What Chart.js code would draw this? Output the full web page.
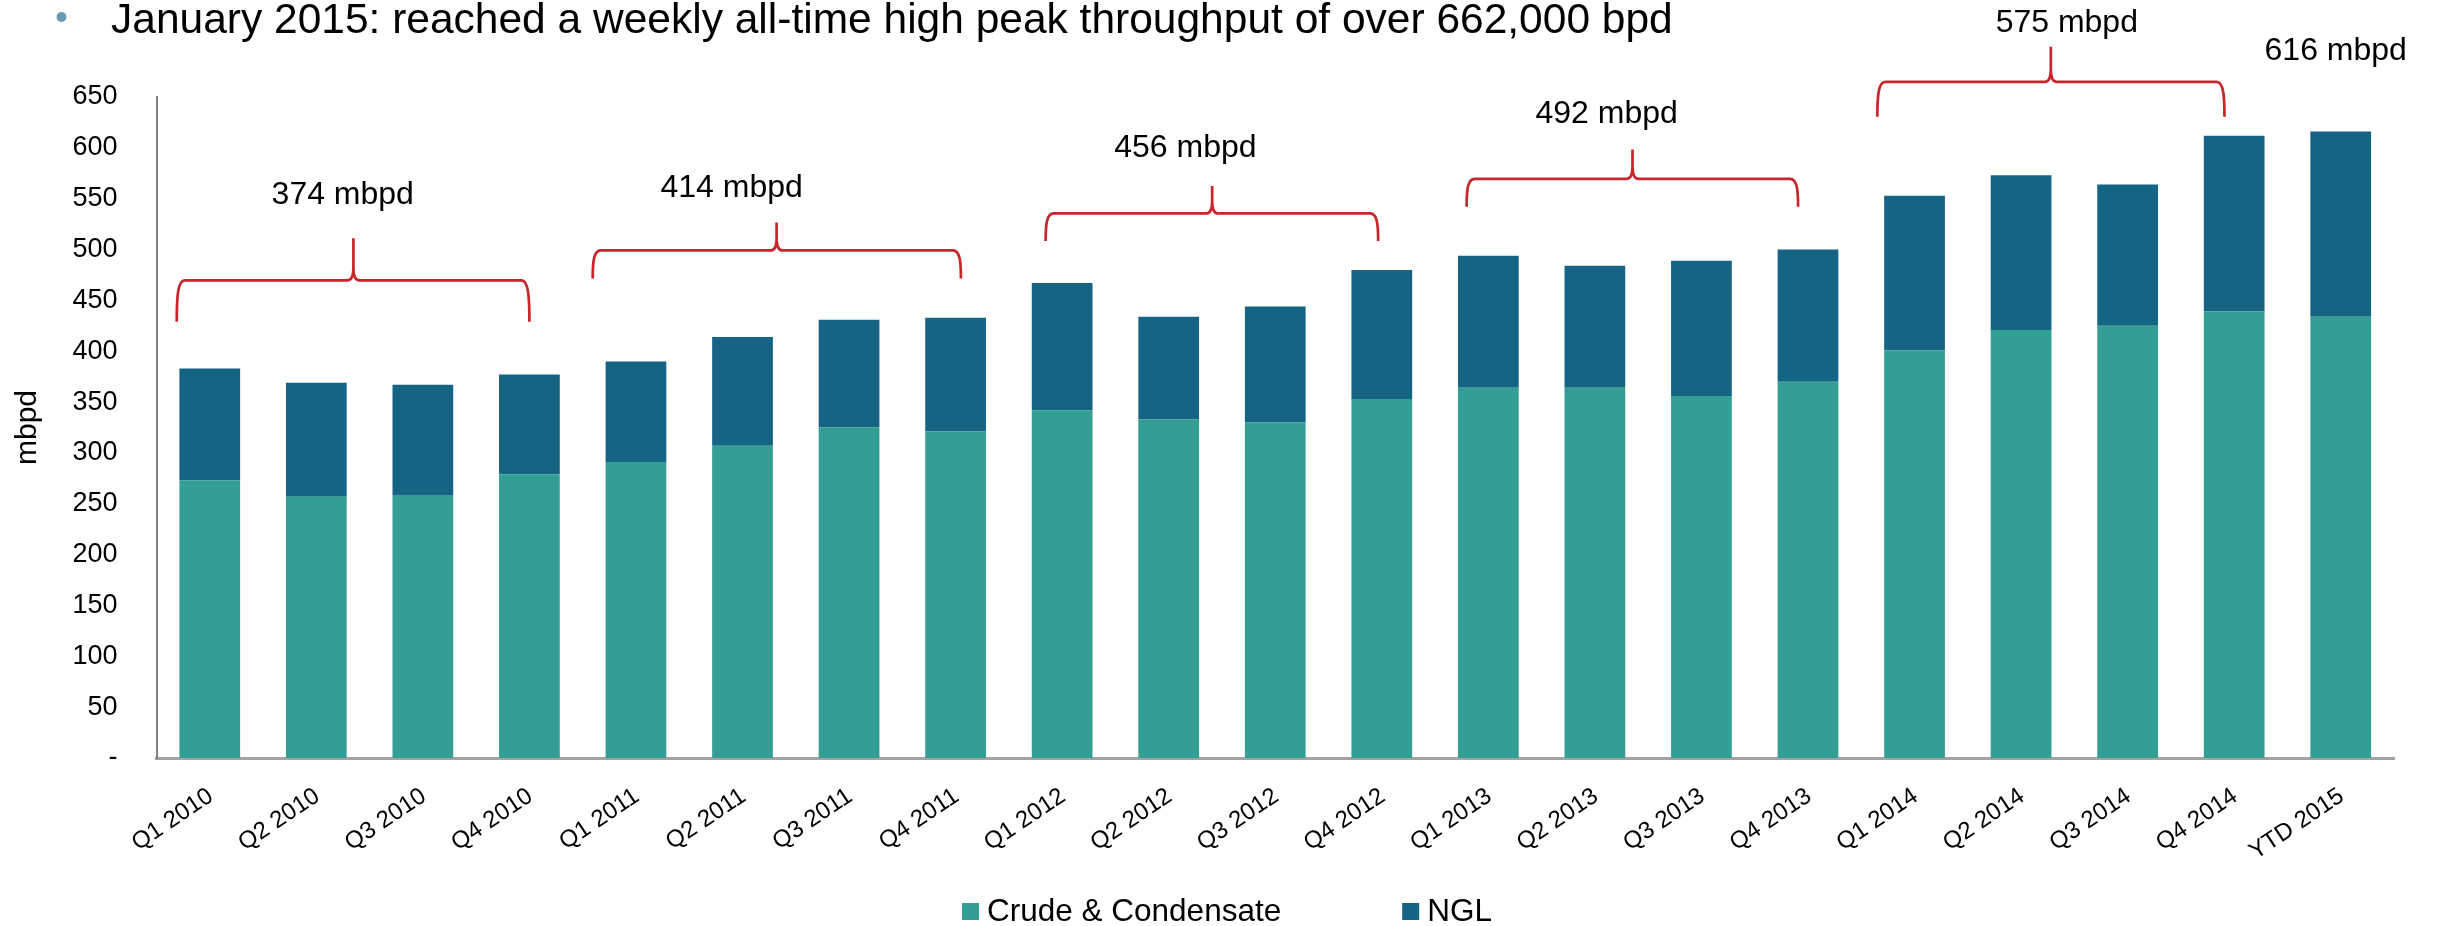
<!DOCTYPE html>
<html>
<head>
<meta charset="utf-8">
<script src="https://cdn.jsdelivr.net/npm/chart.js@4.4.1/dist/chart.umd.min.js"></script>
<style>
  html, body { margin: 0; padding: 0; background: #ffffff; }
  #wrap { position: relative; width: 2440px; height: 926px; }
</style>
</head>
<body>
<div id="wrap"><canvas id="c" width="2440" height="926"></canvas></div>
<script>
// ---------------- data ----------------
const categories = ['Q1 2010','Q2 2010','Q3 2010','Q4 2010','Q1 2011','Q2 2011','Q3 2011','Q4 2011',
  'Q1 2012','Q2 2012','Q3 2012','Q4 2012','Q1 2013','Q2 2013','Q3 2013','Q4 2013',
  'Q1 2014','Q2 2014','Q3 2014','Q4 2014','YTD 2015'];
const crudeCondensate = [273, 257, 258, 279, 291, 307, 325, 321, 342, 333, 330, 353, 364, 364, 356, 370, 401, 421, 425, 439, 434];
const ngl             = [110, 112, 109,  98,  99, 107, 106, 112, 125, 101, 114, 127, 130, 120, 133, 130, 152, 152, 139, 173, 182];
const seriesNames = ['Crude & Condensate', 'NGL'];
const yMin = 0, yMax = 650, yStep = 50;
const zeroTickLabel = '-';
const yAxisTitle = 'mbpd';
const headline = 'January 2015: reached a weekly all-time high peak throughput of over 662,000 bpd';
// group braces: category-index coordinates and value coordinates
const braceFrom  = [-0.31, 3.594, 7.845, 11.796, 15.651];
const braceMid   = [1.348, 5.320, 9.408, 13.353, 17.279];
const braceTo    = [3.000, 7.050, 10.966, 14.907, 18.909];
const braceTip   = [429.0, 471.6, 508.3, 542.0, 630.7];
const braceLevel = [469.7, 499.1, 535.5, 569.5, 664.9];
const bracePeak  = [511.0, 526.7, 562.6, 598.4, 699.3];
const noteText   = ['374 mbpd', '414 mbpd', '456 mbpd', '492 mbpd', '575 mbpd', '616 mbpd'];
const noteX      = [1.248, 4.898, 9.157, 13.110, 17.429, 19.953];
const noteY      = [544.7, 551.8, 590.6, 624.0, 714.0, 686.2];

// ---------------- style ----------------
const FONT = "'Liberation Sans', Arial, Helvetica, sans-serif";
const COLORS = ['#339E94', '#156483'];
const BRACE_COLOR = '#C8262C';

const decor = {
  id: 'decor',
  afterDraw(chart) {
    const ctx = chart.ctx;
    const xs = chart.scales.x, ys = chart.scales.y;
    ctx.save();
    // headline with bullet
    ctx.fillStyle = '#6B9AB3';
    ctx.beginPath();
    ctx.arc(61.5, 17, 5, 0, Math.PI * 2);
    ctx.fill();
    ctx.fillStyle = '#000000';
    ctx.font = '42.5px ' + FONT;
    ctx.textAlign = 'left';
    ctx.textBaseline = 'alphabetic';
    ctx.fillText(headline, 111, 32.5);

    // braces
    ctx.strokeStyle = BRACE_COLOR;
    ctx.lineWidth = 2.7;
    ctx.lineJoin = 'round';
    for (let i = 0; i < braceFrom.length; i++) {
      const x0 = xs.getPixelForValue(braceFrom[i]);
      const xm = xs.getPixelForValue(braceMid[i]);
      const x1 = xs.getPixelForValue(braceTo[i]);
      const yT = ys.getPixelForValue(braceTip[i]);
      const yL = ys.getPixelForValue(braceLevel[i]);
      const yP = ys.getPixelForValue(bracePeak[i]);
      const c = 8, s = 6, k = 12;
      ctx.beginPath();
      ctx.moveTo(x0, yT);
      ctx.bezierCurveTo(x0, yL + (yT - yL) * 0.4, x0 + 1, yL, x0 + c, yL);
      ctx.lineTo(xm - s, yL);
      ctx.quadraticCurveTo(xm, yL, xm, yL - k);
      ctx.lineTo(xm, yP);
      ctx.moveTo(xm, yL - k);
      ctx.quadraticCurveTo(xm, yL, xm + s, yL);
      ctx.lineTo(x1 - c, yL);
      ctx.bezierCurveTo(x1 - 1, yL, x1, yL + (yT - yL) * 0.4, x1, yT);
      ctx.stroke();
    }
    // notes
    ctx.fillStyle = '#000000';
    ctx.font = '32px ' + FONT;
    ctx.textAlign = 'center';
    ctx.textBaseline = 'alphabetic';
    for (let i = 0; i < noteText.length; i++) {
      ctx.fillText(noteText[i], xs.getPixelForValue(noteX[i]), ys.getPixelForValue(noteY[i]));
    }

    // legend
    ctx.font = '31.5px ' + FONT;
    ctx.textAlign = 'left';
    ctx.textBaseline = 'middle';
    let lx = 962;
    const boxSize = 17, ly = 911.5;
    chart.data.datasets.forEach((ds, i) => {
      ctx.fillStyle = ds.backgroundColor;
      ctx.fillRect(lx, ly - boxSize / 2, boxSize, boxSize);
      ctx.fillStyle = '#000000';
      ctx.fillText(ds.label, lx + boxSize + 8, ly + 1);
      lx += boxSize + 8 + ctx.measureText(ds.label).width + 121;
    });
    ctx.restore();
  }
};

new Chart(document.getElementById('c'), {
  type: 'bar',
  data: {
    labels: categories,
    datasets: [
      { label: seriesNames[0], data: crudeCondensate, backgroundColor: COLORS[0], borderWidth: 0 },
      { label: seriesNames[1], data: ngl, backgroundColor: COLORS[1], borderWidth: 0 }
    ]
  },
  options: {
    responsive: false,
    devicePixelRatio: 1,
    animation: false,
    layout: { padding: { top: 97, right: 46, bottom: 0, left: 0 } },
    datasets: { bar: { barPercentage: 0.57, categoryPercentage: 1.0 } },
    plugins: {
      legend: { display: false },
      title: { display: false },
      tooltip: { enabled: false }
    },
    scales: {
      x: {
        stacked: true,
        offset: true,
        grid: { display: false },
        border: { display: true, color: '#A3A3A3', width: 3 },
        ticks: {
          autoSkip: false,
          maxRotation: 34, minRotation: 34,
          padding: 16,
          labelOffset: 1,
          color: '#000000',
          font: { family: FONT, size: 24 }
        },
        afterFit(scale) { scale.height = 168; }
      },
      y: {
        stacked: true,
        min: yMin, max: yMax,
        grid: { display: false },
        border: { display: true, color: '#857D7D', width: 2 },
        ticks: {
          stepSize: yStep,
          padding: 31,
          color: '#000000',
          font: { family: FONT, size: 27 },
          callback: (v) => v === 0 ? zeroTickLabel : String(v)
        },
        title: {
          display: true,
          text: yAxisTitle,
          color: '#000000',
          padding: { top: 10, bottom: 0 },
          font: { family: FONT, size: 30 }
        },
        afterFit(scale) { scale.width = 156.5; }
      }
    }
  },
  plugins: [decor]
});
</script>
</body>
</html>
